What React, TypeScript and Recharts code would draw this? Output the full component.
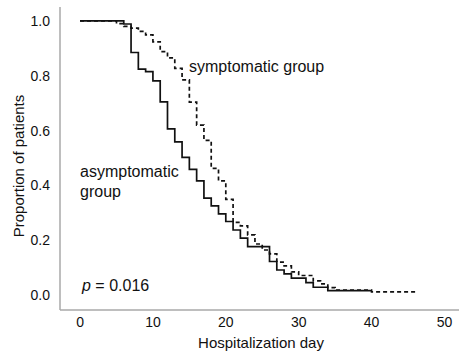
import { LineChart, Line, XAxis, YAxis } from 'recharts'

const asymptomaticDays = [0, 6, 7, 8, 9, 10, 11, 12, 13, 14, 15, 16, 17, 18, 19, 20, 21, 22, 23, 26, 27, 28, 29, 31, 32, 34, 40]
const asymptomaticSurv = [1, 0.989, 0.885, 0.824, 0.815, 0.781, 0.705, 0.606, 0.559, 0.502, 0.458, 0.416, 0.353, 0.325, 0.296, 0.268, 0.237, 0.207, 0.176, 0.122, 0.091, 0.077, 0.061, 0.045, 0.028, 0.016, 0.016]

const symptomaticDays = [0, 5, 6, 7, 8, 9, 10, 11, 12, 13, 14, 15, 16, 17, 18, 19, 20, 21, 22, 23, 24, 25, 26, 27, 28, 29, 30, 32, 33, 34, 35, 40, 46]
const symptomaticSurv = [1, 0.99, 0.98, 0.974, 0.962, 0.949, 0.924, 0.888, 0.865, 0.827, 0.785, 0.704, 0.62, 0.564, 0.462, 0.416, 0.349, 0.265, 0.252, 0.219, 0.186, 0.164, 0.15, 0.12, 0.106, 0.084, 0.071, 0.051, 0.04, 0.027, 0.018, 0.011, 0.011]

const xTicks = [0, 10, 20, 30, 40, 50]
const yTicks = [0, 0.2, 0.4, 0.6, 0.8, 1.0]

const asymptomatic = asymptomaticDays.map((day, i) => ({ day, p: asymptomaticSurv[i] }))
const symptomatic = symptomaticDays.map((day, i) => ({ day, p: symptomaticSurv[i] }))

const FONT = '"Liberation Sans", Arial, sans-serif'
const TEXT = '#111'
const AXIS = '#a8a8a8'

export default function App() {
  return (
    <div style={{ position: 'absolute', left: 0, top: 0, fontFamily: FONT }}>
      <LineChart width={460} height={360} margin={{ top: 7, right: 1, bottom: 0, left: 0 }}>
        <XAxis
          type="number"
          dataKey="day"
          domain={[-2.75, 52]}
          ticks={xTicks}
          allowDataOverflow
          tickLine={false}
          axisLine={{ stroke: AXIS, strokeWidth: 1.5 }}
          tick={{ fontSize: 14, fill: TEXT, fontFamily: FONT }}
          tickMargin={1}
          height={50}
        />
        <YAxis
          type="number"
          domain={[-0.055, 1.051]}
          ticks={yTicks}
          allowDataOverflow
          tickLine={false}
          axisLine={{ stroke: AXIS, strokeWidth: 1.5 }}
          tick={{ fontSize: 14, fill: TEXT, fontFamily: FONT }}
          tickFormatter={(v: number) => v.toFixed(1)}
          tickMargin={4}
          width={60}
        />
        <Line
          data={symptomatic}
          dataKey="p"
          type="stepAfter"
          stroke="#111"
          strokeWidth={1.7}
          strokeDasharray="4 3"
          dot={false}
          isAnimationActive={false}
        />
        <Line
          data={asymptomatic}
          dataKey="p"
          type="stepAfter"
          stroke="#111"
          strokeWidth={1.7}
          dot={false}
          isAnimationActive={false}
        />
        <text x={18} y={166} transform="rotate(-90 18 166)" textAnchor="middle" dominantBaseline="central" fontSize={15} fill={TEXT} fontFamily={FONT}>
          Proportion of patients
        </text>
        <text x={261} y={348} textAnchor="middle" fontSize={15} fill={TEXT} fontFamily={FONT}>
          Hospitalization day
        </text>
        <text x={189} y={72} fontSize={16} fill={TEXT} fontFamily={FONT}>
          symptomatic group
        </text>
        <text x={80} y={177} fontSize={16} fill={TEXT} fontFamily={FONT}>
          asymptomatic
        </text>
        <text x={80} y={197} fontSize={16} fill={TEXT} fontFamily={FONT}>
          group
        </text>
        <text x={82} y={291} fontSize={16} fill={TEXT} fontFamily={FONT}>
          <tspan fontStyle="italic">p</tspan> = 0.016
        </text>
      </LineChart>
    </div>
  )
}
